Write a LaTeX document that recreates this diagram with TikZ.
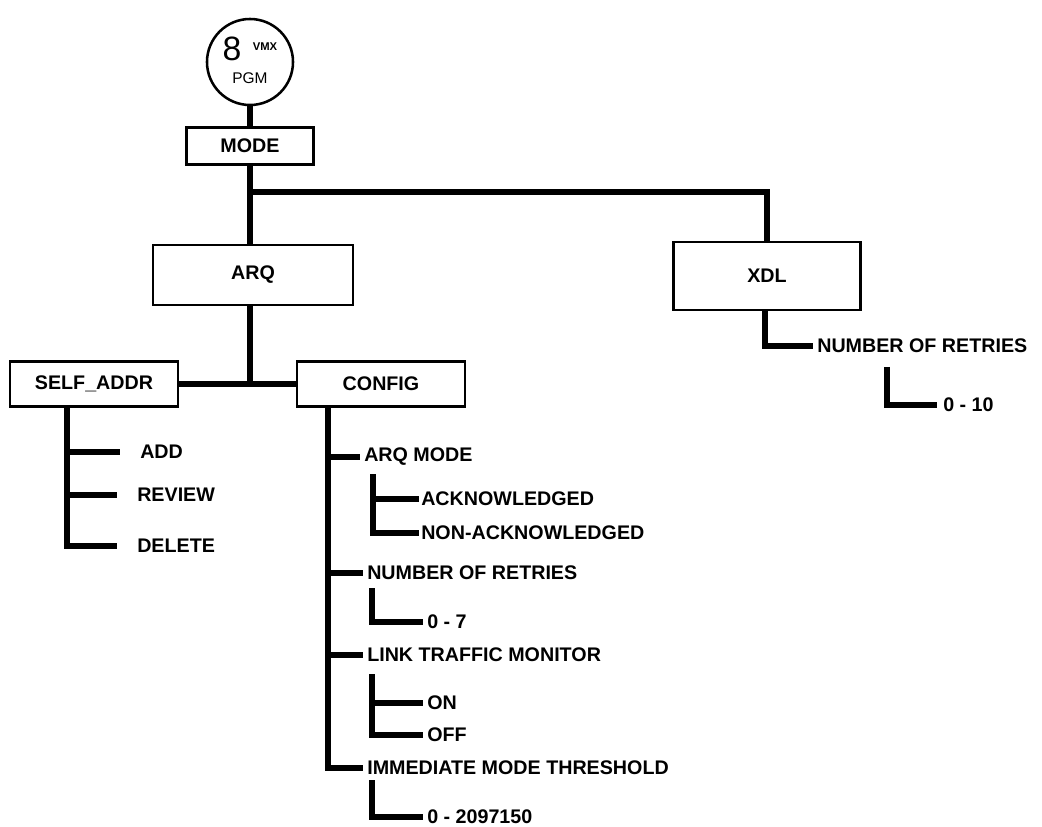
\documentclass[tikz,border=0pt]{standalone}
\usepackage{fontspec}
\setmainfont{Liberation Sans}
\tikzset{
	treenode/.style = {
		align=center,
		inner sep=0pt,
		font=\fontsize{14}{16}\selectfont\bfseries
	},
	node_box/.style = {
		treenode,
		rectangle,
		draw=black,
		line width=1.8pt
	},
	node_item/.style = {
		treenode,
		anchor=west
	},
	line_tree/.style = {
		line width=4.2pt
	},
}

\begin{document}
\begin{tikzpicture}[x=0.025cm, y=-0.025cm]
\useasboundingbox (0,0) rectangle (1042,827);
% top of the menu
\node [circle, draw=black, line width=1.8pt, minimum size=2.15cm] (pgm) at (250,62) {};
\node [font=\fontsize{24}{24}\selectfont] (eight) at (232,49) {8};
\node [font=\fontsize{8}{8}\selectfont\bfseries] (vmx) at (265,47) {VMX};
\node [font=\fontsize{11}{11}\selectfont] (pgmtext) at (250,78) {PGM};
\node [node_box, minimum width=3.175cm, minimum height=0.925cm] (mode) at (250,146) {MODE};
\node [node_box, minimum width=5cm, minimum height=1.5cm] (arq) at (253,275) {ARQ};
\node [node_box, minimum width=4.675cm, minimum height=1.7cm] (xdl) at (767,276) {XDL};
\node [node_box, minimum width=4.2cm, minimum height=1.125cm] (selfaddr) at (94,384) {SELF\_ADDR};
\node [node_box, minimum width=4.2cm, minimum height=1.125cm] (config) at (381,384) {CONFIG};

\coordinate (split) at (250,192);
\draw [line_tree] (pgm.south) -- (mode.north);
\draw [line_tree] (mode.south) -- (mode.south |- arq.north);
\draw [line_tree] (split) -| (xdl.north);
\draw [line_tree] (mode.south |- arq.south) -- (mode.south |- config.west);
\draw [line_tree] (selfaddr.east) -- (config.west);

% SELF_ADDR
\node [node_item] (add) at (140,452) {ADD};
\node [node_item] (review) at (137,495) {REVIEW};
\node [node_item] (delete) at (137,546) {DELETE};
\coordinate (sa_top) at (67,407);
\foreach \n in {add,review,delete}
	\draw [line_tree, shorten >=0.5cm] (sa_top) |- (\n.west);

% CONFIG
\node [node_item] (arqmode) at (364,457) {ARQ MODE};
\node [node_item] (ack) at (421,499) {ACKNOWLEDGED};
\node [node_item] (nack) at (421,533) {NON-ACKNOWLEDGED};
\node [node_item] (retries) at (367,573) {NUMBER OF RETRIES};
\node [node_item] (rzero) at (427,622) {0 - 7};
\node [node_item] (ltm) at (367,655) {LINK TRAFFIC MONITOR};
\node [node_item] (on) at (427,703) {ON};
\node [node_item] (off) at (427,735) {OFF};
\node [node_item] (imt) at (367,768) {IMMEDIATE MODE THRESHOLD};
\node [node_item] (izero) at (427,817) {0 - 2097150};
\coordinate (cf_top) at (328,407);
\foreach \n in {arqmode,retries,ltm,imt}
	\draw [line_tree, shorten >=0.1cm] (cf_top) |- (\n.west);
\coordinate (am_top) at (373,474);
\foreach \n in {ack,nack}
	\draw [line_tree, shorten >=0.05cm] (am_top) |- (\n.west);
\coordinate (nr_top) at (372,588);
\draw [line_tree, shorten >=0.1cm] (nr_top) |- (rzero.west);
\coordinate (lt_top) at (372,674);
\foreach \n in {on,off}
	\draw [line_tree, shorten >=0.1cm] (lt_top) |- (\n.west);
\coordinate (im_top) at (372,780);
\draw [line_tree, shorten >=0.1cm] (im_top) |- (izero.west);

% XDL
\node [node_item] (xretries) at (817,346) {NUMBER OF RETRIES};
\node [node_item] (xzero) at (943,405) {0 - 10};
\draw [line_tree, shorten >=0.1cm] (xdl.south -| 765,0) |- (xretries.west);
\coordinate (xr_top) at (887,367);
\draw [line_tree, shorten >=0.15cm] (xr_top) |- (xzero.west);
\end{tikzpicture}
\end{document}
